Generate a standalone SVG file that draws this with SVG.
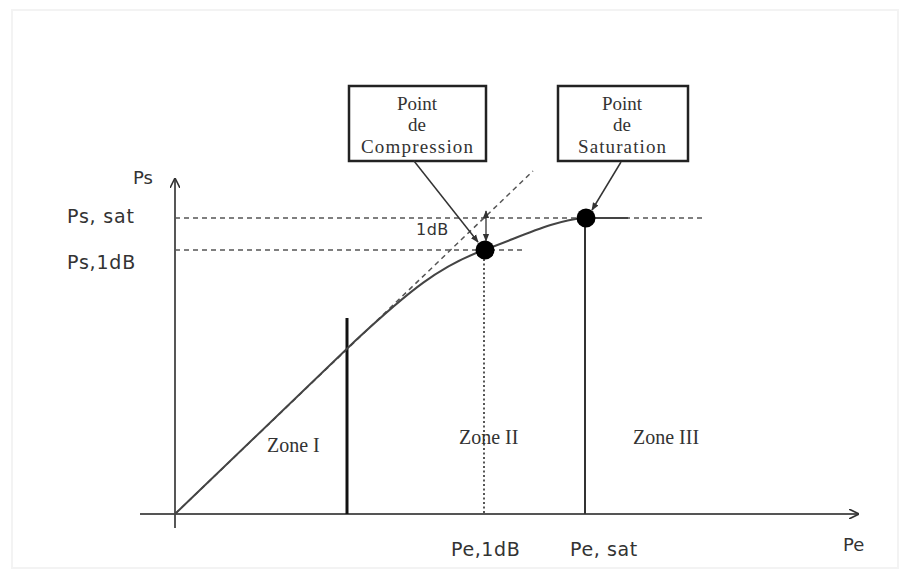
<svg xmlns="http://www.w3.org/2000/svg" width="909" height="578" viewBox="0 0 909 578">
<style>
.lbl{font-family:"DejaVu Sans","Liberation Sans",sans-serif;fill:#333;}
.ser{font-family:"Liberation Serif","DejaVu Serif",serif;fill:#333;}
.dash{stroke:#555;stroke-width:1.5;stroke-dasharray:5 4;fill:none;}
.box{fill:#fff;stroke:#222;stroke-width:2.5;}
</style>
<defs>
<marker id="ah" viewBox="0 0 10 10" refX="9" refY="5" markerWidth="8" markerHeight="8" orient="auto-start-reverse" markerUnits="userSpaceOnUse">
<path d="M0,1 L10,5 L0,9 z" fill="#333"/>
</marker>
<marker id="ax" viewBox="0 0 10 10" refX="9" refY="5" markerWidth="10" markerHeight="10" orient="auto" markerUnits="userSpaceOnUse">
<path d="M0,0 L10,5 L0,10" fill="none" stroke="#333" stroke-width="1.6"/>
</marker>
</defs>
<rect width="909" height="578" fill="#fff"/>
<rect x="12" y="10" width="886" height="558" fill="none" stroke="#f3f3f3" stroke-width="2"/>

<g id="axes">
<line x1="140" y1="514" x2="858" y2="514" stroke="#555" stroke-width="1.8" marker-end="url(#ax)"/>
<line x1="175" y1="528" x2="175" y2="179" stroke="#444" stroke-width="1.8" marker-end="url(#ax)"/>
<text class="lbl" x="133" y="184" font-size="18">Ps</text>
<text class="lbl" x="843" y="551" font-size="18">Pe</text>
<text class="lbl" x="67" y="223" font-size="19" letter-spacing="0.8">Ps, sat</text>
<text class="lbl" x="67" y="269" font-size="19" letter-spacing="0.8">Ps,1dB</text>
<text class="lbl" x="451" y="556" font-size="19" letter-spacing="0.6">Pe,1dB</text>
<text class="lbl" x="570" y="556" font-size="19" letter-spacing="0.6">Pe, sat</text>
</g>

<g id="guides">
<line class="dash" x1="175" y1="218" x2="706" y2="218"/>
<line class="dash" x1="175" y1="250" x2="525" y2="250"/>
<line class="dash" x1="175" y1="514" x2="533" y2="171"/>
<line x1="484" y1="250" x2="484" y2="514" stroke="#444" stroke-width="1.8" stroke-dasharray="2 2.5"/>
</g>

<g id="zones">
<line x1="347" y1="318" x2="347" y2="514" stroke="#111" stroke-width="3"/>
<line x1="585" y1="218" x2="585" y2="514" stroke="#333" stroke-width="2"/>
<text class="ser" x="267" y="452" font-size="20">Zone I</text>
<text class="ser" x="459" y="444" font-size="20">Zone II</text>
<text class="ser" x="633" y="444" font-size="20">Zone III</text>
</g>

<g id="curve">
<path d="M175,514 L355,341 C410,290 440,266 484,250 C525,235 555,220 585,218 L628,218" fill="none" stroke="#444" stroke-width="2"/>
</g>

<g id="compression-point">
<circle cx="485" cy="250" r="9.5" fill="#000"/>
</g>
<g id="saturation-point">
<circle cx="586" cy="218" r="9.5" fill="#000"/>
</g>

<g id="delta-1dB">
<line x1="486" y1="211" x2="486" y2="241" stroke="#333" stroke-width="1.3" marker-start="url(#ah)" marker-end="url(#ah)"/>
<text class="lbl" x="416" y="235" font-size="16" letter-spacing="0.5">1dB</text>
</g>

<g id="box-compression">
<rect class="box" x="349" y="86" width="137" height="75"/>
<text class="ser" x="417" y="110" font-size="19" text-anchor="middle">Point</text>
<text class="ser" x="417" y="131" font-size="19" text-anchor="middle">de</text>
<text class="ser" x="417" y="153" font-size="19" text-anchor="middle" textLength="112">Compression</text>
</g>

<g id="box-saturation">
<rect class="box" x="558" y="86" width="130" height="75"/>
<text class="ser" x="622" y="110" font-size="19" text-anchor="middle">Point</text>
<text class="ser" x="622" y="131" font-size="19" text-anchor="middle">de</text>
<text class="ser" x="622" y="153" font-size="19" text-anchor="middle" textLength="88">Saturation</text>
</g>

<g id="connectors">
<line x1="414" y1="161" x2="478" y2="242" stroke="#333" stroke-width="1.5" marker-end="url(#ah)"/>
<line x1="621" y1="162" x2="592" y2="210" stroke="#333" stroke-width="1.5" marker-end="url(#ah)"/>
</g>
</svg>
